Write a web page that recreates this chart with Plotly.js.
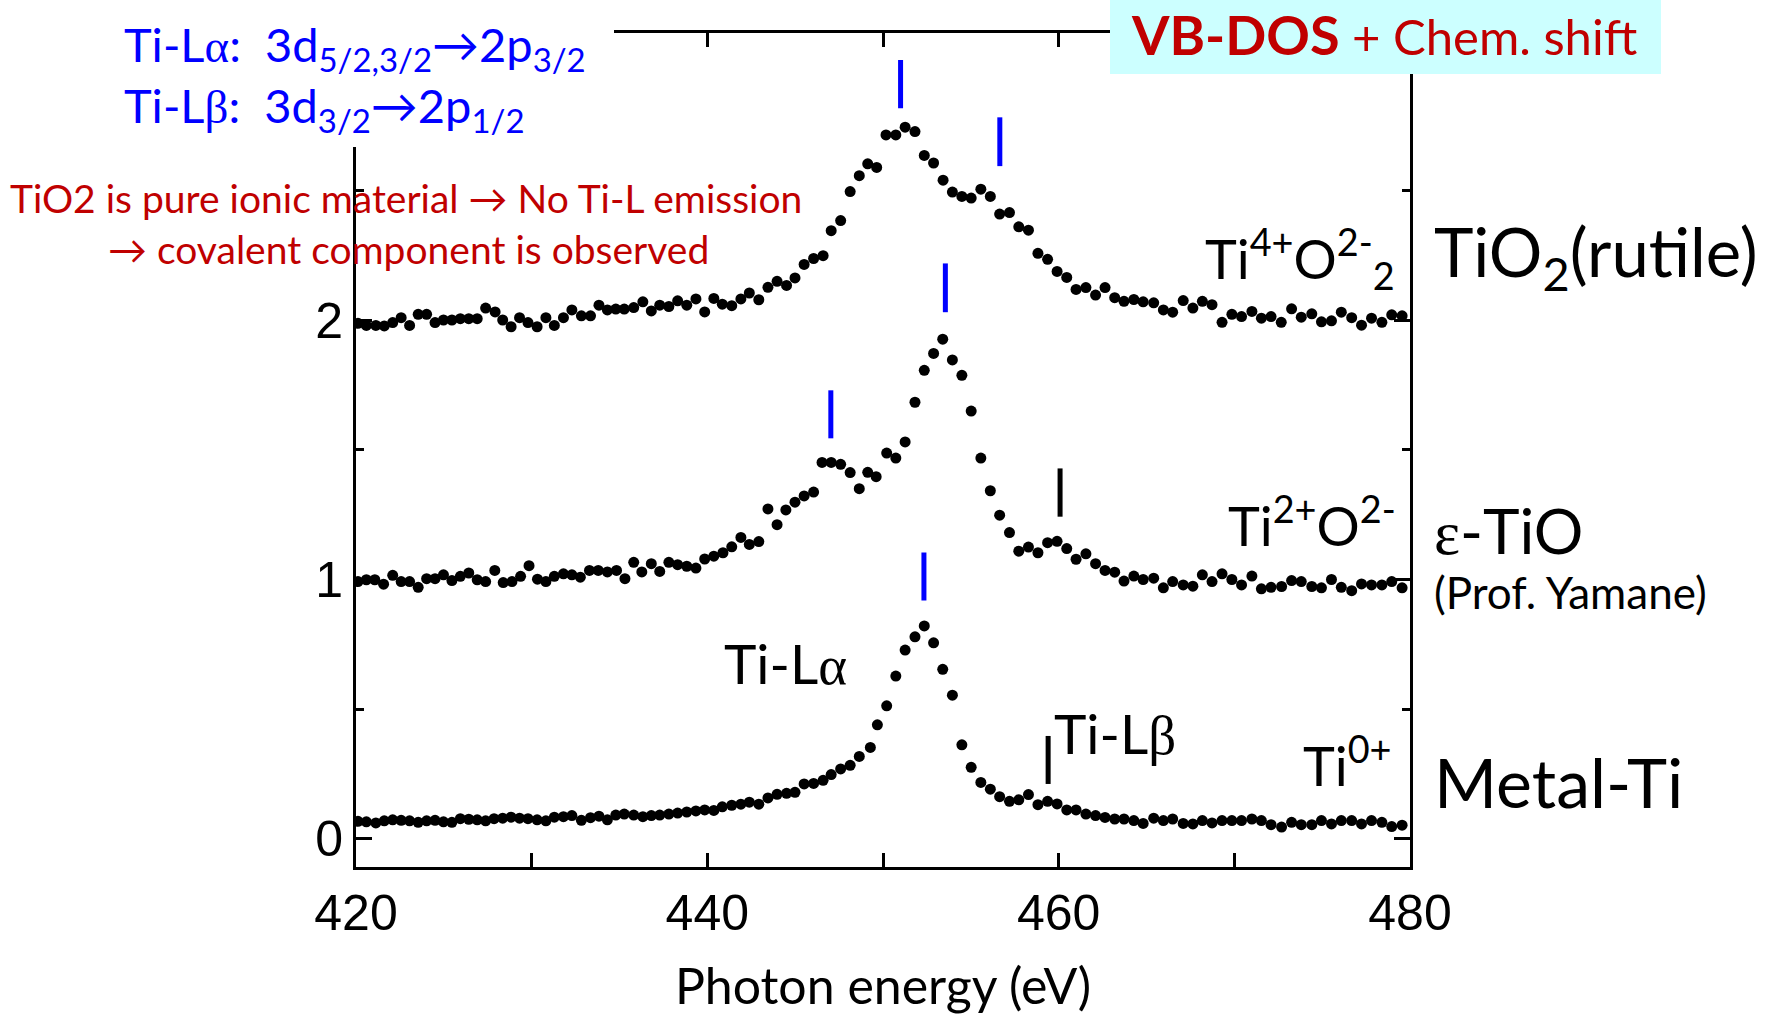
<!DOCTYPE html>
<html><head><meta charset="utf-8">
<script src="https://cdn.plot.ly/plotly-3.0.1.min.js"></script>
<style>html,body{margin:0;padding:0;background:#fff;}#chart{width:1781px;height:1015px;}</style>
</head><body><div id="chart"></div>
<script>
// ---------------- data (photon energy in eV, intensity offset per sample) ----------------
const energyTiO2 = [420.11,420.59,421.13,421.61,422.09,422.57,423.05,423.54,424.02,424.50,
424.98,425.46,425.94,426.42,426.90,427.38,427.92,428.35,428.83,429.31,
429.79,430.31,430.81,431.29,431.81,432.29,432.83,433.35,433.83,434.31,
434.79,435.27,435.81,436.33,436.81,437.29,437.81,438.31,438.83,439.35,
439.85,440.37,440.85,441.39,441.91,442.39,442.93,443.45,443.97,444.51,
444.99,445.51,446.05,446.59,447.05,447.59,448.13,448.65,449.13,
449.64,450.17,450.73,451.26,451.82,452.35,452.88,453.42,453.95,454.49,
455.02,455.57,456.11,456.64,457.20,457.73,458.28,458.82,459.37,459.91,
460.46,460.99,461.55,462.10,462.64,463.19,463.72,464.28,464.81,465.41,
465.96,466.49,467.09,467.64,468.18,468.73,469.30,469.86,470.41,471.00,
471.54,472.09,472.67,473.26,473.81,474.41,474.96,475.53,476.09,476.68,
477.24,477.81,478.40,478.96,479.55];
const intensityTiO2 = [1.987,1.979,1.979,1.977,1.990,2.009,1.979,2.022,2.022,1.990,
2.000,2.000,2.005,2.005,2.005,2.046,2.031,2.000,1.974,2.009,
1.990,1.974,2.009,1.979,2.009,2.039,2.016,2.016,2.057,2.039,
2.042,2.042,2.048,2.070,2.035,2.057,2.052,2.074,2.057,2.081,
2.031,2.083,2.061,2.055,2.081,2.104,2.078,2.126,2.149,2.133,
2.162,2.214,2.237,2.248,2.344,2.383,2.495,2.556,2.602,
2.588,2.713,2.713,2.743,2.726,2.634,2.605,2.539,2.493,2.476,
2.470,2.504,2.476,2.408,2.414,2.359,2.346,2.257,2.234,2.187,
2.164,2.118,2.125,2.096,2.125,2.086,2.072,2.079,2.070,2.066,
2.039,2.030,2.075,2.046,2.072,2.059,1.991,2.022,2.013,2.033,
2.007,2.013,1.991,2.043,2.011,2.024,1.993,1.997,2.030,2.009,
1.980,2.007,1.991,2.020,2.016];

const energyTiO = [420.11,420.59,421.07,421.57,422.09,422.57,423.05,423.54,424.02,424.50,
424.98,425.46,425.94,426.42,426.90,427.38,427.90,428.38,428.88,429.37,
429.85,430.33,430.81,431.29,431.81,432.29,432.77,433.29,433.79,434.31,
434.83,435.31,435.81,436.27,436.81,437.29,437.81,438.31,438.83,439.35,
439.85,440.37,440.89,441.39,441.91,442.39,442.93,443.45,443.97,444.47,
444.99,445.51,446.05,446.53,447.05,447.59,448.13,448.65,449.13,449.61,
450.21,450.73,451.26,451.82,452.35,452.88,453.40,453.95,454.49,455.02,
455.57,456.11,456.64,457.20,457.73,458.28,458.82,459.37,459.91,460.46,
460.99,461.55,462.10,462.64,463.19,463.72,464.28,464.81,465.41,465.96,
466.49,467.09,467.64,468.18,468.73,469.30,469.86,470.41,471.00,471.54,
472.09,472.69,473.26,473.81,474.41,474.96,475.53,476.09,476.68,477.24,
477.81,478.40,478.96,479.55];
const intensityTiO = [0.992,0.999,0.999,0.982,1.016,0.992,0.992,0.970,1.003,1.003,
1.018,0.996,1.012,1.025,0.999,0.992,1.035,0.988,0.992,1.012,
1.053,1.001,0.992,1.012,1.022,1.018,1.009,1.035,1.035,1.029,
1.035,1.003,1.066,1.029,1.061,1.031,1.066,1.057,1.051,1.044,
1.079,1.090,1.103,1.126,1.162,1.135,1.146,1.272,1.211,1.268,
1.298,1.322,1.337,1.451,1.451,1.444,1.412,1.350,1.413,1.396,
1.487,1.468,1.530,1.683,1.806,1.871,1.926,1.846,1.787,1.649,
1.468,1.342,1.248,1.181,1.109,1.125,1.103,1.142,1.147,1.119,
1.078,1.099,1.061,1.035,1.028,0.994,1.013,1.000,1.005,0.968,
0.992,0.979,0.974,1.018,0.992,1.022,1.000,0.979,1.013,0.964,
0.970,0.973,0.996,0.992,0.973,0.968,1.000,0.970,0.957,0.983,
0.979,0.979,0.992,0.968];

const energyMetal = [420.11,420.59,421.13,421.61,422.09,422.57,423.05,423.54,424.02,424.50,
424.98,425.46,425.94,426.42,426.90,427.38,427.86,428.35,428.83,429.31,
429.79,430.31,430.81,431.29,431.81,432.29,432.83,433.35,433.83,434.31,
434.79,435.27,435.81,436.33,436.81,437.29,437.81,438.31,438.83,439.35,
439.85,440.37,440.85,441.39,441.91,442.39,442.93,443.45,443.97,444.51,
444.99,445.51,446.05,446.59,447.05,447.59,448.13,448.65,
449.28,449.68,450.21,450.73,451.26,451.82,452.35,452.88,453.40,453.95,
454.49,455.02,455.57,456.11,456.64,457.20,457.73,458.28,458.82,459.37,
459.91,460.46,460.99,461.55,462.10,462.64,463.19,463.72,464.28,464.81,
465.41,465.96,466.49,467.09,467.64,468.18,468.73,469.30,469.86,470.41,
471.00,471.54,472.09,472.69,473.26,473.81,474.41,474.96,475.53,476.09,
476.68,477.24,477.81,478.40,478.96,479.55];
const intensityMetal = [0.068,0.066,0.062,0.070,0.074,0.072,0.070,0.064,0.070,0.072,
0.066,0.064,0.078,0.076,0.074,0.070,0.078,0.080,0.084,0.080,
0.078,0.074,0.070,0.084,0.086,0.090,0.072,0.082,0.088,0.074,
0.092,0.096,0.092,0.086,0.090,0.092,0.096,0.100,0.104,0.108,
0.112,0.110,0.124,0.130,0.134,0.142,0.134,0.158,0.172,0.176,
0.180,0.212,0.214,0.226,0.248,0.270,0.284,0.318,
0.353,0.440,0.513,0.628,0.728,0.779,0.821,0.756,0.654,0.554,
0.363,0.276,0.218,0.192,0.163,0.145,0.151,0.171,0.132,0.145,
0.135,0.112,0.112,0.096,0.090,0.083,0.077,0.077,0.071,0.060,
0.080,0.071,0.077,0.060,0.058,0.071,0.062,0.071,0.071,0.071,
0.077,0.071,0.055,0.046,0.064,0.055,0.055,0.071,0.058,0.071,
0.071,0.058,0.071,0.064,0.048,0.053];

// peak position markers (energy, lower and upper intensity, kind)
const markerEnergy = [451.0, 456.65, 453.55, 447.03, 452.33, 460.08, 459.40];
const markerLow    = [2.816, 2.593, 2.030, 1.544, 0.919, 1.242, 0.212];
const markerHigh   = [3.002, 2.781, 2.218, 1.729, 1.104, 1.428, 0.397];
const markerKind   = ['blue','blue','blue','blue','blue','black','black'];

const xTickStart = 420, xTickStep = 20, yTickStep = 1;
const xRange = [420, 480], yRange = [-0.108, 3.106];

// ---------------- layout helpers ----------------
const W = 1781, H = 1015, L = 356, R = 371, T = 33, B = 148;
const pw = W - L - R, ph = H - T - B;
const px = x => (x - L) / pw;
const py = y => (H - B - y) / ph;
const SANS = 'Lato, "Noto Sans", sans-serif';
const SERIF = "font-family:'Liberation Serif'";
const BLUE = '#0000ff', RED = '#c00000';
const kindColor = {blue: BLUE, black: '#000000'};

const dotStyle = {size: 11, color: '#000'};
const traces = [
  {x: energyTiO2, y: intensityTiO2, name: 'TiO2 (rutile)', mode: 'markers', type: 'scatter', marker: dotStyle},
  {x: energyTiO,  y: intensityTiO,  name: 'ε-TiO', mode: 'markers', type: 'scatter', marker: dotStyle},
  {x: energyMetal, y: intensityMetal, name: 'Metal-Ti', mode: 'markers', type: 'scatter', marker: dotStyle}
];

const shapes = [
  {type: 'rect', xref: 'paper', yref: 'paper', x0: px(-20), x1: px(614), y0: py(147), y1: py(-20),
   fillcolor: '#ffffff', line: {width: 0}, layer: 'above'},
  {type: 'rect', xref: 'paper', yref: 'paper', x0: px(1110), x1: px(1661), y0: py(74), y1: py(-20),
   fillcolor: '#ccffff', line: {width: 0}, layer: 'above'}
];
markerEnergy.forEach((e, i) => shapes.push({
  type: 'line', xref: 'x', yref: 'y', x0: e, x1: e, y0: markerLow[i], y1: markerHigh[i],
  line: {color: kindColor[markerKind[i]], width: 5}, layer: 'above'
}));

function ann(text, x, y, size, color, xanchor, extra) {
  return Object.assign({text: text, xref: 'paper', yref: 'paper', x: px(x), y: py(y),
    xanchor: xanchor || 'left', yanchor: 'middle', showarrow: false,
    font: {family: SANS, size: size, color: color || '#000'}}, extra || {});
}
const NB = '\u00a0';
const annotations = [
  ann('Ti-L<span style="' + SERIF + '">α</span>:' + NB + NB + '3d<sub>5/2,3/2</sub>→2p<sub>3/2</sub><br>' +
      'Ti-L<span style="' + SERIF + '">β</span>:' + NB + NB + '3d<sub>3/2</sub>→2p<sub>1/2</sub>',
      122, 78, 47, BLUE, 'left', {align: 'left'}),
  ann('TiO2 is pure ionic material → No Ti-L emission', 406, 198, 39, RED, 'center'),
  ann('→ covalent component is observed', 408, 249, 39, RED, 'center'),
  ann('<span style="font-size:54px"><b>VB-DOS</b></span> + Chem. shift', 1129, 35, 49, RED),
  ann('TiO<sub>2</sub>(rutile)', 1432, 256, 67),
  ann('<span style="' + SERIF + '">ε</span>-TiO', 1432, 530, 62),
  ann('(Prof. Yamane)', 1432, 592, 44),
  ann('Metal-Ti', 1432, 781, 68),
  ann('Ti<sup>4+</sup>O<sup>2-</sup><sub>2</sub>', 1397, 258, 54, '#000', 'right'),
  ann('Ti<sup>2+</sup>O<sup>2-</sup>', 1398, 522, 54, '#000', 'right'),
  ann('Ti<sup>0+</sup>', 1394, 762, 54, '#000', 'right'),
  ann('Ti-L<span style="' + SERIF + '">α</span>', 722, 663, 55),
  ann('Ti-L<span style="' + SERIF + '">β</span>', 1052, 733, 55)
];

const axisCommon = {
  showline: true, linewidth: 3, linecolor: '#000', mirror: 'ticks',
  ticks: 'inside', tickwidth: 3, tickcolor: '#000', showgrid: false, zeroline: false,
  tickfont: {family: '"Liberation Sans", Arial, sans-serif', size: 50, color: '#000'}
};
const layout = {
  width: W, height: H, margin: {l: L, r: R, t: T, b: B},
  paper_bgcolor: '#fff', plot_bgcolor: '#fff', showlegend: false,
  xaxis: Object.assign({}, axisCommon, {
    range: xRange, tickmode: 'linear', tick0: xTickStart, dtick: xTickStep, ticklen: 14,
    minor: {dtick: 10, tick0: xTickStart, ticks: 'inside', ticklen: 14, tickwidth: 3, tickcolor: '#000'},
    title: {text: 'Photon energy (eV)', font: {family: SANS, size: 50, color: '#000'}, standoff: 38}
  }),
  yaxis: Object.assign({}, axisCommon, {
    range: yRange, tickmode: 'linear', tick0: 0, dtick: yTickStep, ticklen: 16,
    minor: {dtick: 0.5, tick0: 0, ticks: 'inside', ticklen: 8, tickwidth: 3, tickcolor: '#000'}
  }),
  shapes: shapes, annotations: annotations
};
Plotly.newPlot('chart', traces, layout, {staticPlot: true, displayModeBar: false});
</script></body></html>
